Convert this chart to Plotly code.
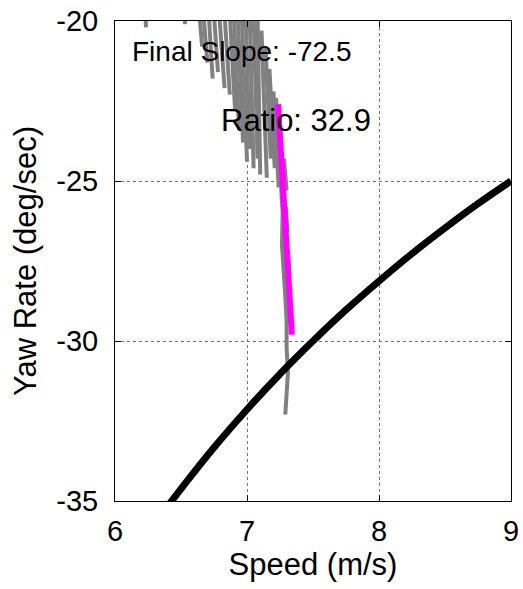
import plotly.graph_objects as go

# Reference curve (constant lateral acceleration limit)
curve_speed = [6.38, 6.5, 6.75, 7.0, 7.25, 7.5, 7.75, 8.0, 8.25, 8.5, 8.75, 9.0]
curve_yaw = [-35.27, -34.62, -33.33, -32.14, -31.03, -30.0, -29.03, -28.13, -27.27, -26.47, -25.71, -25.0]

# Fitted final slope line
fit_speed = [7.235, 7.34]
fit_yaw = [-22.6, -29.8]

# Measured data strokes (speed, yaw rate), None separates strokes
meas_speed = [6.23, 6.235, None,
              6.53, 6.53, None,
              6.64, 6.66, None,
              6.67, 6.70, None,
              6.71, 6.74, None,
              6.75, 6.78, None,
              6.79, 6.83, None,
              6.83, 6.87, None,
              6.87, 6.91, None,
              6.90, 6.94, None,
              6.93, 6.97, None,
              6.96, 7.00, None,
              6.99, 7.02, None,
              7.02, 7.05, None,
              7.05, 7.08, None,
              7.08, 7.10, None,
              7.11, 7.15, None,
              7.14, 7.18, None,
              7.17, 7.21, None,
              7.20, 7.24, None,
              7.22, 7.245, 7.26, 7.27, 7.265, 7.28, 7.29, 7.30, 7.30, 7.31, 7.30, 7.29, None,
              7.28, 7.29, 7.30, None,
              7.295, 7.305, None,
              7.31, 7.32]
meas_yaw = [-19.8, -20.2, None,
            -19.8, -20.1, None,
            -19.8, -20.8, None,
            -19.8, -21.3, None,
            -19.8, -21.8, None,
            -19.8, -21.6, None,
            -19.8, -22.1, None,
            -19.8, -22.3, None,
            -19.8, -22.8, None,
            -19.8, -23.4, None,
            -19.8, -23.8, None,
            -19.8, -24.4, None,
            -19.8, -24.0, None,
            -19.8, -24.6, None,
            -19.8, -24.3, None,
            -19.8, -24.8, None,
            -20.3, -24.9, None,
            -20.8, -24.3, None,
            -21.5, -24.6, None,
            -22.2, -25.2, None,
            -22.4, -24.0, -25.0, -26.0, -27.0, -27.8, -28.6, -29.4, -30.2, -31.0, -31.8, -32.3, None,
            -24.3, -24.8, -25.3, None,
            -25.8, -26.6, None,
            -27.2, -27.9]

fig = go.Figure()
fig.add_trace(go.Scatter(x=meas_speed, y=meas_yaw, mode="lines",
                         line=dict(color="#808080", width=4), connectgaps=False,
                         hoverinfo="skip", showlegend=False))
fig.add_trace(go.Scatter(x=curve_speed, y=curve_yaw, mode="lines",
                         line=dict(color="black", width=7, shape="spline"),
                         showlegend=False))
fig.add_trace(go.Scatter(x=fit_speed, y=fit_yaw, mode="lines",
                         line=dict(color="#FF00FF", width=6), showlegend=False))

font_family = "Liberation Sans, Arial, sans-serif"
fig.add_annotation(x=6.11, y=-20.95, text="Final Slope: -72.5", showarrow=False,
                   xanchor="left", yanchor="middle",
                   font=dict(family=font_family, size=28, color="black"))
fig.add_annotation(x=6.79, y=-23.1, text="Ratio: 32.9", showarrow=False,
                   xanchor="left", yanchor="middle",
                   font=dict(family=font_family, size=31, color="black"))

axis_common = dict(showline=True, linecolor="black", linewidth=1, mirror="ticks",
                   ticks="inside", ticklen=6, tickcolor="black", tickwidth=1,
                   showgrid=True, gridcolor="#777777", griddash="dot", gridwidth=1,
                   zeroline=False, automargin=False,
                   tickfont=dict(family=font_family, size=29, color="black"))

fig.update_xaxes(range=[6, 9], tickvals=[6, 7, 8, 9], ticktext=["6", "7", "8", "9"],
                 ticklabelstandoff=4,
                 title=dict(text="Speed (m/s)", font=dict(family=font_family, size=31, color="black"),
                            standoff=4),
                 **axis_common)
fig.update_yaxes(range=[-35, -20], tickvals=[-35, -30, -25, -20],
                 ticktext=["-35", "-30", "-25", "-20"],
                 ticklabelstandoff=10,
                 title=dict(text="Yaw Rate (deg/sec)", font=dict(family=font_family, size=31, color="black"),
                            standoff=10),
                 **axis_common)

fig.update_layout(width=523, height=589, margin=dict(l=115, r=12, t=21, b=88),
                  plot_bgcolor="white", paper_bgcolor="white", showlegend=False)

fig.write_html("out.html", config={"displayModeBar": False},
               post_script="document.body.style.margin='0';document.body.style.overflow='hidden';")
